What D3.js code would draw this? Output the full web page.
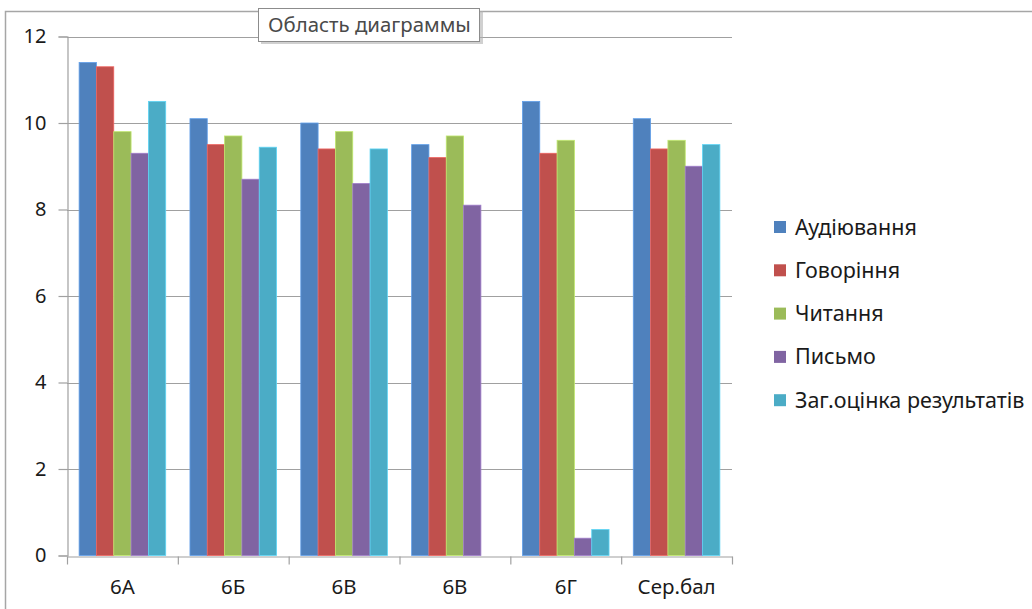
<!DOCTYPE html>
<html><head><meta charset="utf-8">
<script src="https://cdn.jsdelivr.net/npm/d3@7"></script>
<style>html,body{margin:0;padding:0;background:#fff;}svg{display:block;font-family:"Noto Sans", "Open Sans", sans-serif;}</style>
</head><body>
<svg id="c" width="1032" height="609"></svg>
<script>
const categories = ["6А", "6Б", "6В", "6В", "6Г", "Сер.бал"];
const seriesNames = ["Аудіювання", "Говоріння", "Читання", "Письмо", "Заг.оцінка результатів"];
const audiuvannia = [11.4, 10.1, 10.0, 9.5, 10.5, 10.1];
const hovorinnia  = [11.3, 9.5, 9.4, 9.2, 9.3, 9.4];
const chytannia   = [9.8, 9.7, 9.8, 9.7, 9.6, 9.6];
const pysmo       = [9.3, 8.7, 8.6, 8.1, 0.4, 9.0];
const zahOtsinka  = [10.5, 9.44, 9.4, 0, 0.6, 9.5];
const yTicks = [0, 2, 4, 6, 8, 10, 12];
const colors = ["#4F81BD", "#C0504D", "#9BBB59", "#8064A2", "#4BACC6"];
const series = [audiuvannia, hovorinnia, chytannia, pysmo, zahOtsinka];

const svg = d3.select("#c");
const L = 67, R = 732, T = 36.5, B = 555.5;
const FONT = "Noto Sans";

// chart frame
svg.append("path").attr("d", "M5.5,609 L5.5,11.5 L1032,11.5").attr("fill", "none").attr("stroke", "#a6a6a6").attr("stroke-width", 1.5);

const x = d3.scaleBand().domain(d3.range(categories.length)).range([L, R]).paddingInner(0).paddingOuter(0);
const y = d3.scaleLinear().domain([0, 12]).range([B, T]);
const inner = d3.scaleBand().domain(d3.range(series.length)).range([0, x.bandwidth()]).paddingOuter(0.7).paddingInner(0);

// gridlines
svg.append("g").selectAll("line").data(yTicks.filter(d => d > 0)).join("line")
  .attr("x1", L).attr("x2", R).attr("y1", d => Math.round(y(d)) + 0.5).attr("y2", d => Math.round(y(d)) + 0.5)
  .attr("stroke", "#a0a0a0").attr("stroke-width", 1.2);

// y axis
const yAxis = d3.axisLeft(y).tickValues(yTicks).tickSize(9).tickPadding(12).tickFormat(d3.format("d"));
const gy = svg.append("g").attr("transform", `translate(${L + 0.5},0)`).call(yAxis);
gy.select(".domain").attr("stroke", "#a0a0a0").attr("stroke-width", 1.2);
gy.selectAll(".tick line").attr("stroke", "#a0a0a0").attr("stroke-width", 1.2);
gy.selectAll(".tick text").attr("font-size", 20).attr("fill", "#1a1a1a").attr("font-family", FONT);

// bars
series.forEach((vals, si) => {
  svg.append("g").selectAll("rect").data(vals).join("rect")
    .attr("x", (d, i) => x(i) + inner(si))
    .attr("width", inner.bandwidth())
    .attr("y", d => y(d))
    .attr("height", d => y(0) - y(d))
    .attr("fill", colors[si])
    .attr("stroke", d3.color(colors[si]).brighter(0.6))
    .attr("stroke-width", 0.8);
});

// x axis
const xAxis = d3.axisBottom(x).tickFormat(i => categories[i]).tickSize(0).tickPadding(23);
const gx = svg.append("g").attr("transform", `translate(0,${Math.round(B) + 0.5})`).call(xAxis);
gx.select(".domain").attr("stroke", "#a0a0a0").attr("stroke-width", 1.2);
gx.selectAll(".tick text").attr("font-size", 20.5).attr("fill", "#1a1a1a").attr("font-family", FONT);
// category boundary ticks
gx.append("g").selectAll("line").data(d3.range(categories.length + 1)).join("line")
  .attr("x1", i => (i < categories.length ? x(i) : R) + 0.5)
  .attr("x2", i => (i < categories.length ? x(i) : R) + 0.5)
  .attr("y1", 0).attr("y2", 8).attr("stroke", "#a0a0a0").attr("stroke-width", 1.2);

// legend
const lg = svg.append("g").attr("transform", "translate(774,227)");
const li = lg.selectAll("g").data(seriesNames).join("g").attr("transform", (d, i) => `translate(0,${i * 43.3})`);
li.append("rect").attr("x", 0).attr("y", -6).attr("width", 12).attr("height", 12).attr("fill", (d, i) => colors[i]);
li.append("text").attr("x", 21).attr("y", 0).attr("dy", "0.35em").attr("font-size", 21.5).attr("fill", "#1a1a1a").text(d => d);

// tooltip
const tt = svg.append("g");
tt.append("rect").attr("x", 261).attr("y", 11).attr("width", 222).attr("height", 33).attr("fill", "#b0b0b0").attr("opacity", 0.6);
tt.append("rect").attr("x", 258.5).attr("y", 8.5).attr("width", 221).attr("height", 33).attr("fill", "#fff").attr("stroke", "#8c8c8c");
tt.append("text").attr("x", 268).attr("y", 25).attr("dy", "0.35em").attr("font-size", 20.4).attr("fill", "#4a4a4a").text("Область диаграммы");
</script>
</body></html>
